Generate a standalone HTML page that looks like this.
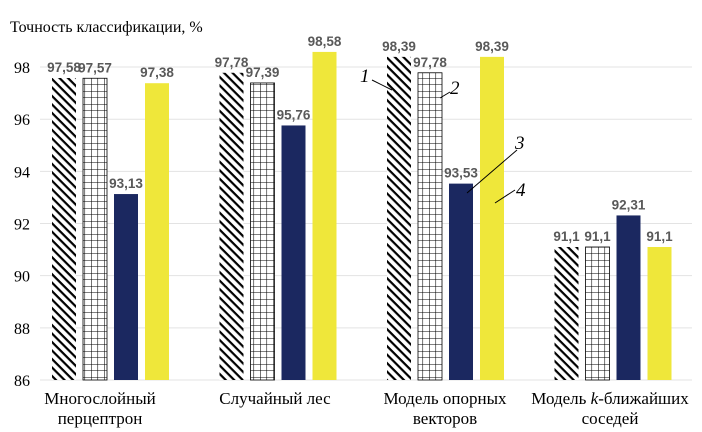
<!DOCTYPE html>
<html><head><meta charset="utf-8"><style>
body{margin:0;background:#fff;}
svg{display:block;}
.v{font-family:"Liberation Sans",sans-serif;font-weight:bold;font-size:13.5px;fill:#595959;text-anchor:middle;}
.ax{font-family:"Liberation Serif",serif;font-size:16px;fill:#000;text-anchor:end;}
.an{font-family:"Liberation Serif",serif;font-style:italic;font-size:19px;fill:#000;}
</style></head><body>
<svg id="c" width="702" height="432">
<defs>
<pattern id="hatch" width="6" height="6" patternUnits="userSpaceOnUse" patternTransform="rotate(45)">
<rect width="6" height="6" fill="#fff"/><rect width="6" height="2.2" fill="#000"/>
</pattern>
<pattern id="grid" width="6.5" height="6.5" patternUnits="userSpaceOnUse">
<rect width="6.5" height="6.5" fill="#fff"/><path d="M0 0H6.5M0 0V6.5" stroke="#000" stroke-width="1.1" fill="none"/>
</pattern>
</defs>
<text x="10" y="32" font-family="Liberation Serif, serif" font-size="16">Точность классификации, %</text>
<g id="grid-g"></g><g id="bars"></g><g id="labels"></g>
<g font-family="Liberation Serif, serif" font-size="17" text-anchor="middle" fill="#000">
<text x="100" y="404">Многослойный</text>
<text x="100" y="424">перцептрон</text>
<text x="275" y="404">Случайный лес</text>
<text x="445" y="404">Модель опорных</text>
<text x="445" y="424">векторов</text>
<text x="610" y="404">Модель <tspan font-style="italic">k</tspan>-ближайших</text>
<text x="610" y="424">соседей</text>
</g>
<g stroke="#000" stroke-width="1">
<line x1="372" y1="80" x2="392" y2="90"/><line x1="440" y1="98" x2="450" y2="92"/>
<line x1="467" y1="193" x2="517" y2="150"/><line x1="495" y1="203" x2="515" y2="190"/>
</g>
<text class="an" x="360" y="82">1</text>
<text class="an" x="450" y="94">2</text>
<text class="an" x="515" y="149">3</text>
<text class="an" x="516" y="196">4</text>
</svg>
<script>
const categories=["Многослойный перцептрон","Случайный лес","Модель опорных векторов","Модель k-ближайших соседей"];
const series1=[97.58,97.78,98.39,91.1];
const series2=[97.57,97.39,97.78,91.1];
const series3=[93.13,95.76,93.53,92.31];
const series4=[97.38,98.58,98.39,91.1];
const labels1=["97,58","97,78","98,39","91,1"];
const labels2=["97,57","97,39","97,78","91,1"];
const labels3=["93,13","95,76","93,53","92,31"];
const labels4=["97,38","98,58","98,39","91,1"];
const ticks=[86,88,90,92,94,96,98];
const NS="http://www.w3.org/2000/svg";
const y=v=>380-(v-86)*26.08;
const x=i=>52+i*167.5;
const fills=["url(#hatch)","url(#grid)","#1b2860","#efe73a"];
const S=[series1,series2,series3,series4],L=[labels1,labels2,labels3,labels4];
const gg=document.getElementById('grid-g'),bg=document.getElementById('bars'),lg=document.getElementById('labels');
ticks.forEach(t=>{
 const l=document.createElementNS(NS,'line');
 l.setAttribute('x1',40);l.setAttribute('x2',692);l.setAttribute('y1',y(t));l.setAttribute('y2',y(t));
 l.setAttribute('stroke','#e3e3e3');
 
 
 gg.appendChild(l);
 const tx=document.createElementNS(NS,'text');
 tx.setAttribute('class','ax');tx.setAttribute('x',30);tx.setAttribute('y',y(t)+6);tx.textContent=t;
 
 
 gg.appendChild(tx);
});
categories.forEach((c,i)=>{
 S.forEach((s,k)=>{
  const bx=x(i)+k*31;
  const r=document.createElementNS(NS,'rect');
  r.setAttribute('x',bx);r.setAttribute('width',24);r.setAttribute('y',y(s[i]));r.setAttribute('height',380-y(s[i]));
  r.setAttribute('fill',fills[k]);
  if(k===1){r.setAttribute('stroke','#000');r.setAttribute('stroke-width','0.8');}
  
  
  bg.appendChild(r);
  const t=document.createElementNS(NS,'text');
  t.setAttribute('class','v');t.setAttribute('x',bx+12);t.setAttribute('y',y(s[i])-6);t.textContent=L[k][i];
  
  
  lg.appendChild(t);
 });
});
</script>
</body></html>
